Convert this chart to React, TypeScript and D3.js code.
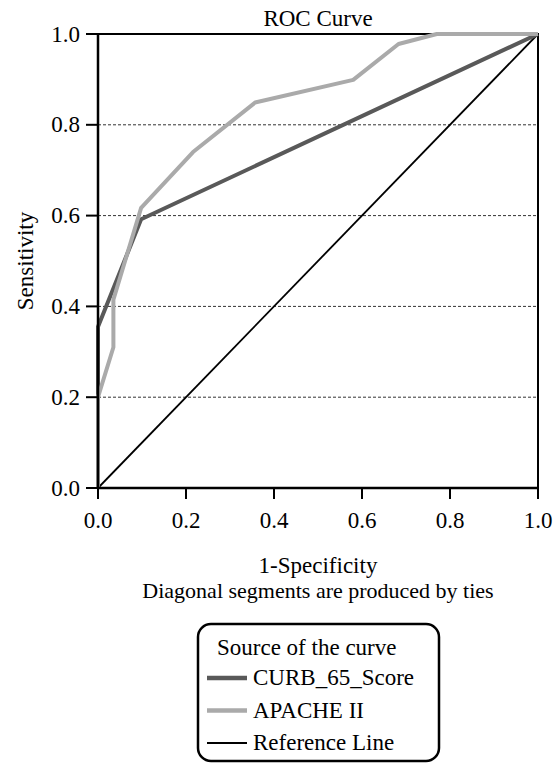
import React from "react";
import * as d3 from "d3";

// points (1-specificity, sensitivity)
const curbX = [0, 0, 0.098, 1];
const curbY = [0, 0.355, 0.592, 1];
const apacheX = [0, 0, 0.035, 0.035, 0.098, 0.216, 0.357, 0.58, 0.683, 0.77, 1];
const apacheY = [0, 0.2, 0.31, 0.415, 0.617, 0.74, 0.849, 0.899, 0.978, 1, 1];
const refX = [0, 1];
const refY = [0, 1];
const tickValues = [0, 0.2, 0.4, 0.6, 0.8, 1];
const gridValues = [0.2, 0.4, 0.6, 0.8];

const legendItems = [
  { name: "CURB_65_Score", color: "#595959", width: 4.5 },
  { name: "APACHE II", color: "#aaaaaa", width: 4.5 },
  { name: "Reference Line", color: "#000000", width: 2 },
];

const W = 559;
const H = 770;
const left = 98;
const right = 538;
const top = 34;
const bottom = 488;
const font = "'Liberation Serif', 'Times New Roman', serif";
const fs = 23;

const App = () => {
  const x = d3.scaleLinear().domain([0, 1]).range([left, right]);
  const y = d3.scaleLinear().domain([0, 1]).range([bottom, top]);

  const line = d3
    .line<[number, number]>()
    .x((d) => x(d[0]))
    .y((d) => y(d[1]));

  const toPts = (xs: number[], ys: number[]): [number, number][] =>
    xs.map((v, i) => [v, ys[i]]);

  const fmt = d3.format(".1f");

  return (
    <svg
      width={W}
      height={H}
      style={{ position: "absolute", left: 0, top: 0, background: "#fff", fontFamily: font }}
    >
      <text x={(left + right) / 2} y={26} textAnchor="middle" fontSize={fs}>
        ROC Curve
      </text>

      {/* dashed grid */}
      {gridValues.map((v) => (
        <line
          key={v}
          x1={left}
          x2={right}
          y1={y(v)}
          y2={y(v)}
          stroke="#333"
          strokeWidth={1}
          strokeDasharray="3,2"
        />
      ))}

      {/* frame */}
      <rect
        x={left}
        y={top}
        width={right - left}
        height={bottom - top}
        fill="none"
        stroke="#000"
        strokeWidth={2}
      />

      {/* curves */}
      <path
        d={line(toPts(refX, refY)) || ""}
        fill="none"
        stroke="#000"
        strokeWidth={1.8}
      />
      <path
        d={line(toPts(curbX, curbY)) || ""}
        fill="none"
        stroke="#595959"
        strokeWidth={4}
        strokeLinejoin="round"
      />
      <path
        d={line(toPts(apacheX, apacheY)) || ""}
        fill="none"
        stroke="#aaaaaa"
        strokeWidth={4}
        strokeLinejoin="round"
      />
      {/* redraw axis lines on top */}
      <line x1={left} x2={left} y1={top} y2={bottom} stroke="#000" strokeWidth={2.5} />
      <line x1={left} x2={right} y1={bottom} y2={bottom} stroke="#000" strokeWidth={2.5} />

      {/* y axis */}
      {tickValues.map((v) => (
        <g key={"y" + v}>
          <line x1={left - 12} x2={left} y1={y(v)} y2={y(v)} stroke="#000" strokeWidth={2} />
          <text
            x={left - 18}
            y={y(v)}
            textAnchor="end"
            dominantBaseline="central"
            fontSize={fs}
          >
            {fmt(v)}
          </text>
        </g>
      ))}
      {/* x axis */}
      {tickValues.map((v) => (
        <g key={"x" + v}>
          <line x1={x(v)} x2={x(v)} y1={bottom} y2={bottom + 11} stroke="#000" strokeWidth={2} />
          <text x={x(v)} y={528} textAnchor="middle" fontSize={fs}>
            {fmt(v)}
          </text>
        </g>
      ))}

      <text
        transform={`translate(33,${(top + bottom) / 2}) rotate(-90)`}
        textAnchor="middle"
        fontSize={fs}
      >
        Sensitivity
      </text>
      <text x={(left + right) / 2} y={573} textAnchor="middle" fontSize={fs}>
        1-Specificity
      </text>
      <text x={(left + right) / 2} y={598} textAnchor="middle" fontSize={22}>
        Diagonal segments are produced by ties
      </text>

      {/* legend */}
      <rect
        x={198}
        y={624}
        width={241}
        height={137}
        rx={13}
        ry={13}
        fill="#fff"
        stroke="#000"
        strokeWidth={2.5}
      />
      <text x={217} y={655} fontSize={fs}>
        Source of the curve
      </text>
      {legendItems.map((d, i) => (
        <g key={d.name} transform={`translate(0,${i * 32.5})`}>
          <line
            x1={207}
            x2={247}
            y1={678}
            y2={678}
            stroke={d.color}
            strokeWidth={d.width}
          />
          <text x={253} y={685} fontSize={fs}>
            {d.name}
          </text>
        </g>
      ))}
    </svg>
  );
};

export default App;
